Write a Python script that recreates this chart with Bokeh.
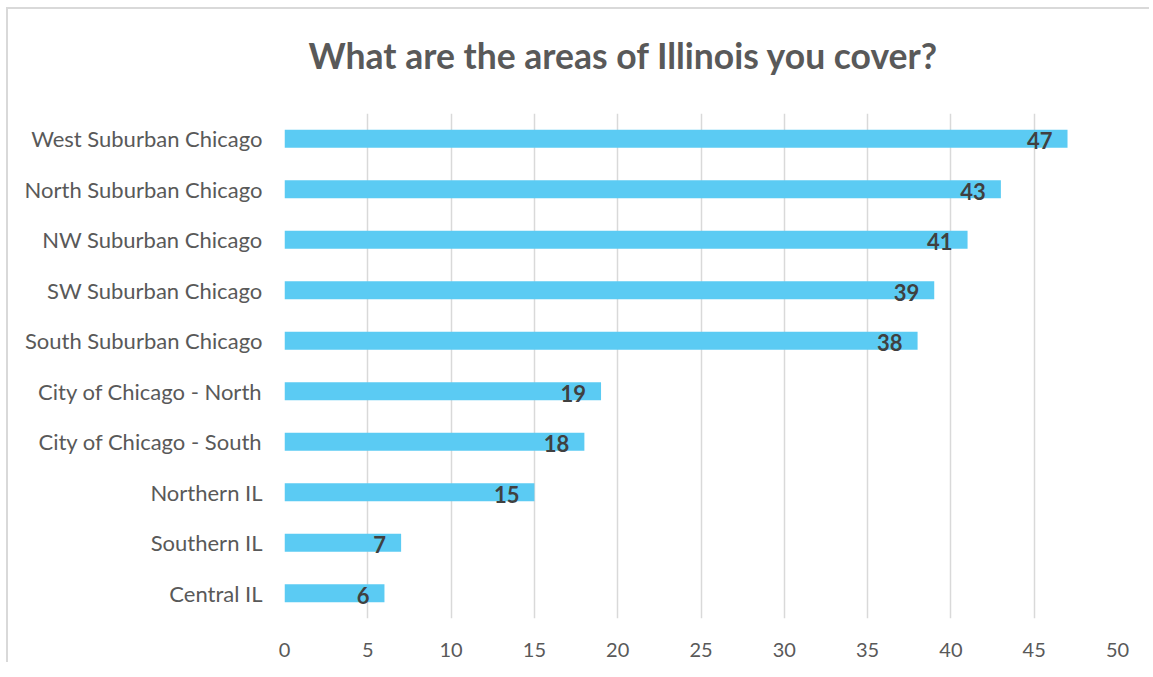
from bokeh.plotting import figure
from bokeh.models import ColumnDataSource, Range1d, FactorRange, FixedTicker, Title
from bokeh.embed import file_html
from bokeh.resources import INLINE
from bokeh.core.properties import value

categories = ["West Suburban Chicago", "North Suburban Chicago", "NW Suburban Chicago",
              "SW Suburban Chicago", "South Suburban Chicago", "City of Chicago - North",
              "City of Chicago - South", "Northern IL", "Southern IL", "Central IL"]
counts = [47, 43, 41, 39, 38, 19, 18, 15, 7, 6]
x_ticks = [0, 5, 10, 15, 20, 25, 30, 35, 40, 45, 50]
title_text = "What are the areas of Illinois you cover?"

src = ColumnDataSource(dict(cat=categories, val=counts, lbl=[str(v) for v in counts]))

W, H = 1143, 655
p = figure(width=W, height=H, output_backend="svg", toolbar_location=None,
           y_range=FactorRange(*list(reversed(categories))), x_range=Range1d(0, 50),
           min_border_left=276, min_border_right=34, min_border_top=104, min_border_bottom=46)
p.margin = (7, 0, 0, 6)
p.background_fill_color = "white"
p.border_fill_color = "white"
p.outline_line_color = None

# spacer between plot area and title (closest to the frame)
p.add_layout(Title(text=" ", text_font_size="1px", standoff=29), "above")
p.add_layout(Title(text=title_text, align="left", offset=24, standoff=10,
                   text_font="Lato", text_font_size="35.5px", text_font_style="bold",
                   text_color="#595959"), "above")

p.hbar(y="cat", right="val", left=0, height=0.36, source=src,
       fill_color="#5BCBF3", line_color=None)
p.text(x="val", y="cat", text="lbl", source=src, text_align="right",
       text_baseline="middle", x_offset=-15, y_offset=2,
       text_font=value("Lato"), text_font_size="22px", text_font_style="bold",
       text_color="#404040")

p.xaxis.ticker = FixedTicker(ticks=x_ticks)
p.xaxis.axis_line_color = None
p.xaxis.major_tick_line_color = None
p.xaxis.minor_tick_line_color = None
p.xaxis.major_label_standoff = 18
p.xaxis.major_label_text_font = "Lato"
p.xaxis.major_label_text_font_size = "20px"
p.xaxis.major_label_text_color = "#595959"

p.yaxis.axis_line_color = None
p.yaxis.major_tick_line_color = None
p.yaxis.minor_tick_line_color = None
p.yaxis.major_label_standoff = 16
p.yaxis.major_label_text_font = "Lato"
p.yaxis.major_label_text_font_size = "22px"
p.yaxis.major_label_text_color = "#595959"

p.xgrid.grid_line_color = "#d9d9d9"
p.xgrid.grid_line_width = 1.5
p.ygrid.grid_line_color = None

p.styles = {"border-left": "2px solid #d9d9d9", "border-top": "2px solid #d9d9d9"}

open("out.html", "w").write(file_html(p, INLINE))
